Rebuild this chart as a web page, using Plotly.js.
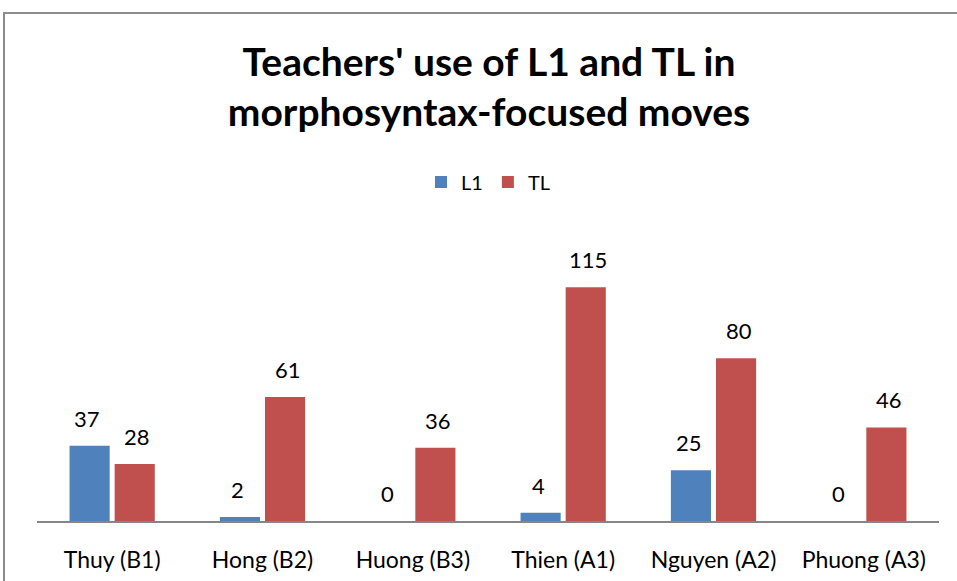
<!DOCTYPE html>
<html><head><meta charset="utf-8">
<script src="https://cdn.plot.ly/plotly-3.0.1.min.js"></script>
<style>body{margin:0;padding:0;background:#fff}#chart{width:957px;height:581px}</style>
</head><body><div id="chart"></div>
<script>
var categories = ["Thuy (B1)", "Hong (B2)", "Huong (B3)", "Thien (A1)", "Nguyen (A2)", "Phuong (A3)"];
var l1Values = [37, 2, 0, 4, 25, 0];
var tlValues = [28, 61, 36, 115, 80, 46];
var seriesNames = ["L1", "TL"];
var titleText = "Teachers' use of L1 and TL in<br>morphosyntax-focused moves";

var W = 957, H = 581;
var mL = 37, mR = 18, mT = 216, mB = 60;
var yMax = 150;
var plotW = W - mL - mR, plotH = H - mT - mB;
var FONT = "Lato, 'Open Sans', sans-serif";

function px2paperX(px){ return (px - mL) / plotW; }
function px2paperY(py){ return (H - mB - py) / plotH; }

var annotations = [];
function addLabels(vals, shift){
  vals.forEach(function(v, i){
    annotations.push({x: categories[i], y: v, xref: 'x', yref: 'y', text: String(v),
      showarrow: false, xshift: shift, yshift: 12, yanchor: 'bottom',
      font: {family: FONT, size: 22, color: '#000'}});
  });
}
addLabels(l1Values, -25);
addLabels(tlValues, 25);

var data = [
  {type: 'bar', name: seriesNames[0], x: categories, y: l1Values, marker: {color: '#4F81BD'}},
  {type: 'bar', name: seriesNames[1], x: categories, y: tlValues, marker: {color: '#C0504D'}}
];

var layout = {
  width: W, height: H,
  margin: {l: mL, r: mR, t: mT, b: mB, pad: 0},
  paper_bgcolor: '#fff', plot_bgcolor: '#fff',
  barmode: 'group', bargap: 0.4, bargroupgap: 0.11,
  title: {text: titleText, x: 0.511, xanchor: 'center', y: 0.87, yanchor: 'top',
    font: {family: FONT, size: 39, color: '#000', weight: 'bold'}},
  showlegend: true,
  legend: {orientation: 'h', x: 0.5, xanchor: 'center', y: px2paperY(182), yanchor: 'middle',
    font: {family: FONT, size: 20, color: '#000'}, itemwidth: 30, traceorder: 'normal'},
  xaxis: {showline: true, linecolor: '#868686', linewidth: 2, ticks: '', ticklabelstandoff: 17,
    tickfont: {family: FONT, size: 23, color: '#000'}, showgrid: false, zeroline: false, fixedrange: true},
  yaxis: {range: [0, yMax], visible: false, showgrid: false, zeroline: false, fixedrange: true},
  annotations: annotations,
  shapes: [{type: 'rect', xref: 'paper', yref: 'paper',
    x0: px2paperX(4), x1: px2paperX(W + 20), y0: px2paperY(H + 20), y1: px2paperY(13),
    line: {color: '#8c8c8c', width: 2}, fillcolor: 'rgba(0,0,0,0)', layer: 'below'}],
  font: {family: FONT}
};

Plotly.newPlot('chart', data, layout, {displayModeBar: false, staticPlot: true});
</script></body></html>
